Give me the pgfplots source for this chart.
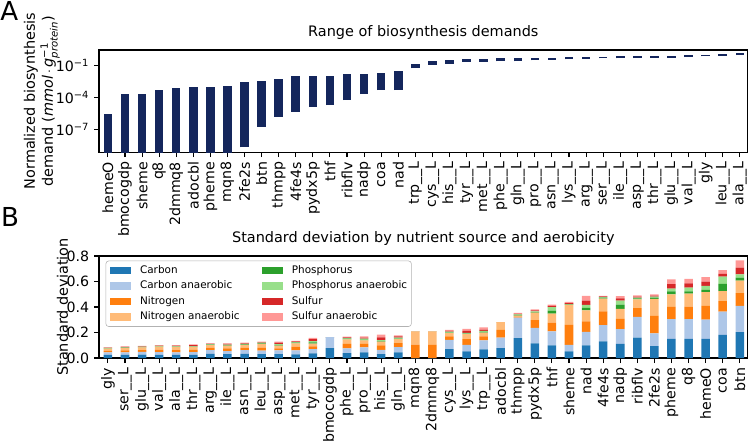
\documentclass[border=0pt]{standalone}
\usepackage{fontspec}
\setmainfont{DejaVu Sans}
\usepackage{amsmath}
\usepackage{pgfplots}
\pgfplotsset{compat=1.18}
\usepackage{pgfplotstable}

\definecolor{navybar}{RGB}{20,38,92}
\definecolor{cC}{HTML}{1F77B4}
\definecolor{cCan}{HTML}{AEC7E8}
\definecolor{cN}{HTML}{FF7F0E}
\definecolor{cNan}{HTML}{FFBB78}
\definecolor{cP}{HTML}{2CA02C}
\definecolor{cPan}{HTML}{98DF8A}
\definecolor{cS}{HTML}{D62728}
\definecolor{cSan}{HTML}{FF9896}

% standard deviation per nutrient source (panel B)
\pgfplotstableread{
x  C     Can   N     Nan   P     Pan   S     San
0  0.025 0.020 0.013 0.015 0.003 0.003 0.002 0.002
1  0.025 0.020 0.015 0.018 0.003 0.003 0.004 0.004
2  0.026 0.022 0.015 0.020 0.003 0.003 0.004 0.003
3  0.025 0.022 0.020 0.022 0.003 0.003 0.003 0.003
4  0.025 0.020 0.018 0.022 0.003 0.004 0.005 0.004
5  0.025 0.022 0.018 0.020 0.003 0.004 0.010 0.005
6  0.033 0.030 0.018 0.020 0.004 0.005 0.003 0.003
7  0.030 0.025 0.020 0.022 0.004 0.005 0.005 0.004
8  0.032 0.030 0.020 0.022 0.003 0.004 0.005 0.004
9  0.030 0.028 0.022 0.032 0.003 0.005 0.004 0.004
10 0.031 0.029 0.016 0.021 0.005 0.008 0.010 0.008
11 0.029 0.031 0.029 0.026 0.005 0.005 0.005 0.005
12 0.036 0.034 0.021 0.023 0.008 0.010 0.016 0.010
13 0.078 0.086 0     0     0     0     0     0
14 0.039 0.036 0.036 0.036 0.005 0.005 0.005 0.005
15 0.044 0.039 0.029 0.026 0.005 0.010 0.008 0.008
16 0.031 0.034 0.034 0.029 0.005 0.008 0.021 0.021
17 0.044 0.042 0.031 0.031 0.005 0.008 0.008 0.008
18 0     0     0.105 0.105 0     0     0     0
19 0     0     0.104 0.106 0     0     0     0
20 0.070 0.073 0.026 0.026 0.005 0.008 0.005 0.008
21 0.052 0.052 0.044 0.039 0.005 0.005 0.016 0.016
22 0.068 0.070 0.031 0.031 0.005 0.008 0.010 0.018
23 0.078 0.083 0.060 0.060 0     0     0     0
24 0.156 0.161 0.008 0.008 0.005 0.005 0.003 0.008
25 0.115 0.122 0.060 0.060 0.003 0.005 0.008 0.008
26 0.100 0.110 0.068 0.070 0.023 0.029 0.008 0.010
27 0.052 0.052 0.156 0.156 0.003 0.003 0.008 0.010
28 0.099 0.107 0.081 0.086 0.021 0.023 0.034 0.036
29 0.130 0.128 0.107 0.100 0.008 0.005 0.005 0.005
30 0.112 0.115 0.080 0.078 0.034 0.031 0.018 0.018
31 0.161 0.161 0.070 0.068 0.008 0.005 0.008 0.010
32 0.094 0.099 0.138 0.133 0.010 0.008 0.008 0.010
33 0.151 0.154 0.096 0.099 0.023 0.021 0.036 0.036
34 0.151 0.154 0.099 0.100 0.018 0.029 0.034 0.036
35 0.151 0.151 0.107 0.107 0.018 0.031 0.034 0.036
36 0.182 0.182 0.083 0.078 0.057 0.057 0.021 0.029
37 0.203 0.206 0.099 0.099 0.023 0.026 0.052 0.057
}\sdtable

\pgfplotsset{
  panel/.style={
    scale only axis, width=467pt, height=73.5pt,
    xmin=-0.52, xmax=37.46,
    axis line style={line width=0.8pt},
    tick align=outside, major tick length=3.6pt,
    tick style={black, line width=0.8pt},
    xtick pos=lower, ytick pos=left,
    xtick={0,...,37},
    tick label style={font=\fontsize{10.2}{12}\selectfont},
    xticklabel style={rotate=90, anchor=east},
    title style={font=\fontsize{10.4}{12}\selectfont, at={(0.5,1)}, anchor=base, yshift=3.6pt},
    ylabel style={font=\fontsize{10.4}{13}\selectfont, align=center, anchor=south, inner sep=0pt},
  },
  swatch/.style={legend image code/.code={%
    \path[fill=#1, draw=none, sharp corners, fill opacity=1] (0pt,-2.65pt) rectangle (15.4pt,2.65pt);}},
}

\begin{document}
\begin{tikzpicture}
\useasboundingbox (0,0) rectangle (539.28pt,-318.24pt);

\node[anchor=base west, inner sep=0pt, font=\fontsize{18.8}{20}\selectfont] at (0pt,-14.9pt) {A};
\node[anchor=base west, inner sep=0pt, font=\fontsize{18.8}{20}\selectfont] at (0.6pt,-163.2pt) {B};

\begin{axis}[panel,
  at={(71.3pt,-36pt)}, anchor=north west,
  ymode=log, ymin=7.2e-10, ymax=3.0,
  ytick={1e-7,1e-4,1e-1},
  yticklabels={10\textsuperscript{−7},10\textsuperscript{−4},10\textsuperscript{−1}},
  yminorticks=false,
  title={Range of biosynthesis demands},
  ylabel={Normalized biosynthesis\\demand (\textit{mmol}$\,\cdot\,\textit{g}^{\text{−1}}_{\textit{protein}}$)},
  ylabel style={at={(axis description cs:-0.060,0.5)}},
  xticklabels={hemeO,bmocogdp,sheme,q8,2dmmq8,adocbl,pheme,mqn8,2fe2s,btn,thmpp,4fe4s,pydx5p,thf,ribflv,nadp,coa,nad,trp\_\_L,cys\_\_L,his\_\_L,tyr\_\_L,met\_\_L,phe\_\_L,gln\_\_L,pro\_\_L,asn\_\_L,lys\_\_L,arg\_\_L,ser\_\_L,ile\_\_L,asp\_\_L,thr\_\_L,glu\_\_L,val\_\_L,gly,leu\_\_L,ala\_\_L},
]
% floating bars: (x,min) -- (x,max), min below the axis where the range reaches zero
\addplot[navybar, line width=6.15pt, unbounded coords=jump] coordinates {
(0,1e-12) (0,2.75e-6) (0,nan)
(1,1e-12) (1,2.0e-4) (1,nan)
(2,1e-12) (2,2.14e-4) (2,nan)
(3,1e-12) (3,4.8e-4) (3,nan)
(4,1e-12) (4,8.5e-4) (4,nan)
(5,1e-12) (5,1.05e-3) (5,nan)
(6,1e-12) (6,1.05e-3) (6,nan)
(7,1e-12) (7,1.2e-3) (7,nan)
(8,2.0e-9) (8,3.1e-3) (8,nan)
(9,1.8e-7) (9,3.9e-3) (9,nan)
(10,1.55e-6) (10,5.1e-3) (10,nan)
(11,4.6e-6) (11,1.0e-2) (11,nan)
(12,1.35e-5) (12,1.07e-2) (12,nan)
(13,1.95e-5) (13,1.07e-2) (13,nan)
(14,5.8e-5) (14,1.66e-2) (14,nan)
(15,2.14e-4) (15,1.78e-2) (15,nan)
(16,5.1e-4) (16,2.2e-2) (16,nan)
(17,5.1e-4) (17,3.2e-2) (17,nan)
(18,0.056) (18,0.141) (18,nan)
(19,0.126) (19,0.269) (19,nan)
(20,0.151) (20,0.355) (20,nan)
(21,0.234) (21,0.398) (21,nan)
(22,0.234) (22,0.407) (22,nan)
(23,0.251) (23,0.479) (23,nan)
(24,0.257) (24,0.513) (24,nan)
(25,0.309) (25,0.537) (25,nan)
(26,0.372) (26,0.589) (26,nan)
(27,0.398) (27,0.646) (27,nan)
(28,0.427) (28,0.692) (28,nan)
(29,0.479) (29,0.708) (29,nan)
(30,0.490) (30,0.759) (30,nan)
(31,0.513) (31,0.759) (31,nan)
(32,0.537) (32,0.813) (32,nan)
(33,0.562) (33,0.832) (33,nan)
(34,0.646) (34,0.933) (34,nan)
(35,0.759) (35,1.07) (35,nan)
(36,0.851) (36,1.23) (36,nan)
(37,1.0) (37,1.45)
};
\end{axis}

\begin{axis}[panel,
  at={(71.3pt,-184.3pt)}, anchor=north west,
  ymin=0, ymax=0.8,
  ytick={0,0.2,0.4,0.6,0.8},
  yticklabels={0.0,0.2,0.4,0.6,0.8},
  stack plots=y,
  title={Standard deviation by nutrient source and aerobicity},
  ylabel={Standard deviation},
  ylabel style={at={(axis description cs:-0.0473,0.5)}},
  xticklabels={gly,ser\_\_L,glu\_\_L,val\_\_L,ala\_\_L,thr\_\_L,arg\_\_L,ile\_\_L,asn\_\_L,leu\_\_L,asp\_\_L,met\_\_L,tyr\_\_L,bmocogdp,phe\_\_L,pro\_\_L,his\_\_L,gln\_\_L,mqn8,2dmmq8,cys\_\_L,lys\_\_L,trp\_\_L,adocbl,thmpp,pydx5p,thf,sheme,nad,4fe4s,nadp,ribflv,2fe2s,pheme,q8,hemeO,coa,btn},
  legend columns=2,
  legend cell align=left,
  legend style={at={(axis description cs:0.0102,0.954)}, anchor=north west,
    draw=black!30, rounded corners=2pt, fill=white, fill opacity=0.8, text opacity=1,
    font=\fontsize{7.5}{9}\selectfont, inner xsep=3pt, inner ysep=3.3pt,
    nodes={inner sep=0pt, text height=5.4pt, text depth=1.6pt},
    row sep=4.2pt,
    /tikz/every odd column/.append style={column sep=6.2pt},
    /tikz/every even column/.append style={column sep=16pt}},
  bars/.style={ybar, bar width=0.5, bar shift=0pt, draw=none, fill=#1},
]
% legend entries in row order so that the two columns read as in the original
\addlegendimage{swatch=cC}
\addlegendentry{Carbon}
\addlegendimage{swatch=cP}
\addlegendentry{Phosphorus}
\addlegendimage{swatch=cCan}
\addlegendentry{Carbon anaerobic}
\addlegendimage{swatch=cPan}
\addlegendentry{Phosphorus anaerobic}
\addlegendimage{swatch=cN}
\addlegendentry{Nitrogen}
\addlegendimage{swatch=cS}
\addlegendentry{Sulfur}
\addlegendimage{swatch=cNan}
\addlegendentry{Nitrogen anaerobic}
\addlegendimage{swatch=cSan}
\addlegendentry{Sulfur anaerobic}

\addplot[bars=cC] table[x=x, y=C] {\sdtable};
\addplot[bars=cCan] table[x=x, y=Can] {\sdtable};
\addplot[bars=cN] table[x=x, y=N] {\sdtable};
\addplot[bars=cNan] table[x=x, y=Nan] {\sdtable};
\addplot[bars=cP] table[x=x, y=P] {\sdtable};
\addplot[bars=cPan] table[x=x, y=Pan] {\sdtable};
\addplot[bars=cS] table[x=x, y=S] {\sdtable};
\addplot[bars=cSan] table[x=x, y=San] {\sdtable};
\end{axis}
\end{tikzpicture}
\end{document}
